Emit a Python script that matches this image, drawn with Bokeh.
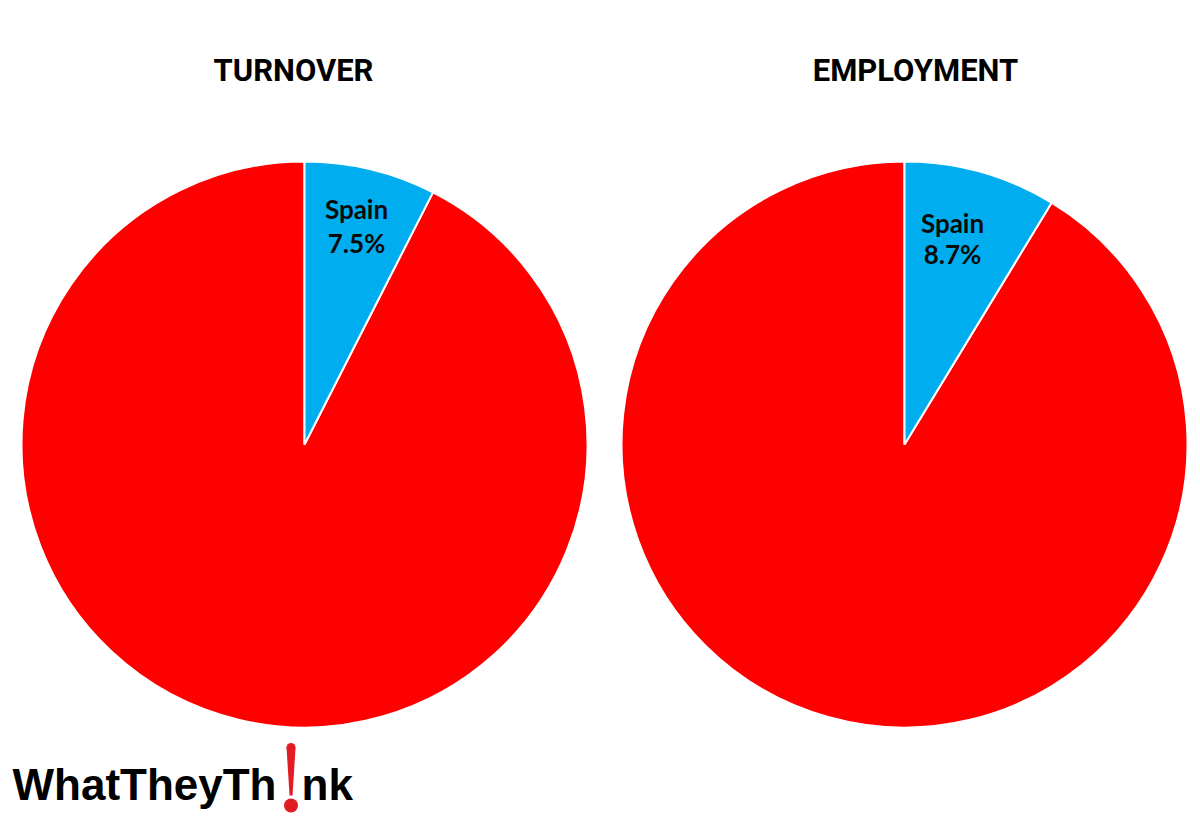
import math
from bokeh.plotting import figure
from bokeh.models import Range1d
from bokeh.core.properties import value
from bokeh.embed import file_html
from bokeh.resources import INLINE

# ---- data ----
charts = ["TURNOVER", "EMPLOYMENT"]
spain_share = [7.5, 8.7]          # percent
slice_label = "Spain"
logo_parts = ["WhatTheyTh", "!", "nk"]

# ---- layout (figure pixel space, y measured bottom-up) ----
W, H = 1200, 819
def px(x):
    return x
def py(y):
    return H - y

RED = "#FF0000"
BLUE = "#00AEEF"
LOGO_RED = "#E31B23"

p = figure(width=W, height=H, output_backend="svg", toolbar_location=None,
           x_range=Range1d(0, W), y_range=Range1d(0, H), min_border=0)
p.axis.visible = False
p.grid.visible = False
p.outline_line_color = None
p.background_fill_color = "white"
p.border_fill_color = "white"

centers_x = [px(304), px(904)]
center_y = py(444)
R = 283
label_x = [px(356), px(952)]
label_y1 = [py(208), py(222)]
label_y2 = [py(242), py(253)]

for i, share in enumerate(spain_share):
    cx = centers_x[i]
    top = math.pi / 2
    end = top - 2 * math.pi * share / 100.0
    # rest (red): clockwise from Spain's end back round to the top
    p.wedge(x=cx, y=center_y, radius=R, start_angle=end, end_angle=top,
            direction="clock", fill_color=RED, line_color="white", line_width=2)
    # Spain (blue)
    p.wedge(x=cx, y=center_y, radius=R, start_angle=top, end_angle=end,
            direction="clock", fill_color=BLUE, line_color="white", line_width=2)

    p.text(x=[label_x[i]], y=[label_y1[i]], text=[slice_label],
           text_font=value("Lato"), text_font_style="bold", text_font_size="26px",
           text_align="center", text_baseline="alphabetic", text_color="#0a0a0a")
    p.text(x=[label_x[i]], y=[label_y2[i]], text=[f"{share}%"],
           text_font=value("Lato"), text_font_style="bold", text_font_size="26px",
           text_align="center", text_baseline="alphabetic", text_color="#0a0a0a")

# titles
title_x = [px(293), px(915)]
for name, tx in zip(charts, title_x):
    p.text(x=[tx], y=[py(70)], text=[name],
           text_font=value("Roboto"), text_font_style="bold",
           text_font_size="31px", text_align="center", text_baseline="alphabetic",
           text_color="black")

# logo
p.text(x=[px(12)], y=[py(784)], text=[logo_parts[0]],
       text_font=value("Liberation Sans"), text_font_style="bold",
       text_font_size="44px", text_align="left", text_baseline="alphabetic",
       text_color="black")
p.text(x=[px(301)], y=[py(784)], text=[logo_parts[2]],
       text_font=value("Liberation Sans"), text_font_style="bold",
       text_font_size="44px", text_align="left", text_baseline="alphabetic",
       text_color="black")
# exclamation mark drawn as a tapered stroke and a dot
bx = px(290.5)
p.patch(x=[bx - 4.5, bx + 4.5, bx + 1.5, bx - 1.5],
        y=[py(747), py(747), py(795), py(795)],
        fill_color=LOGO_RED, line_color=None)
p.circle(x=[bx], y=[py(747)], radius=4.5, fill_color=LOGO_RED, line_color=None)
p.circle(x=[bx], y=[py(805)], radius=7, fill_color=LOGO_RED, line_color=None)

open("out.html", "w").write(file_html(p, INLINE))
